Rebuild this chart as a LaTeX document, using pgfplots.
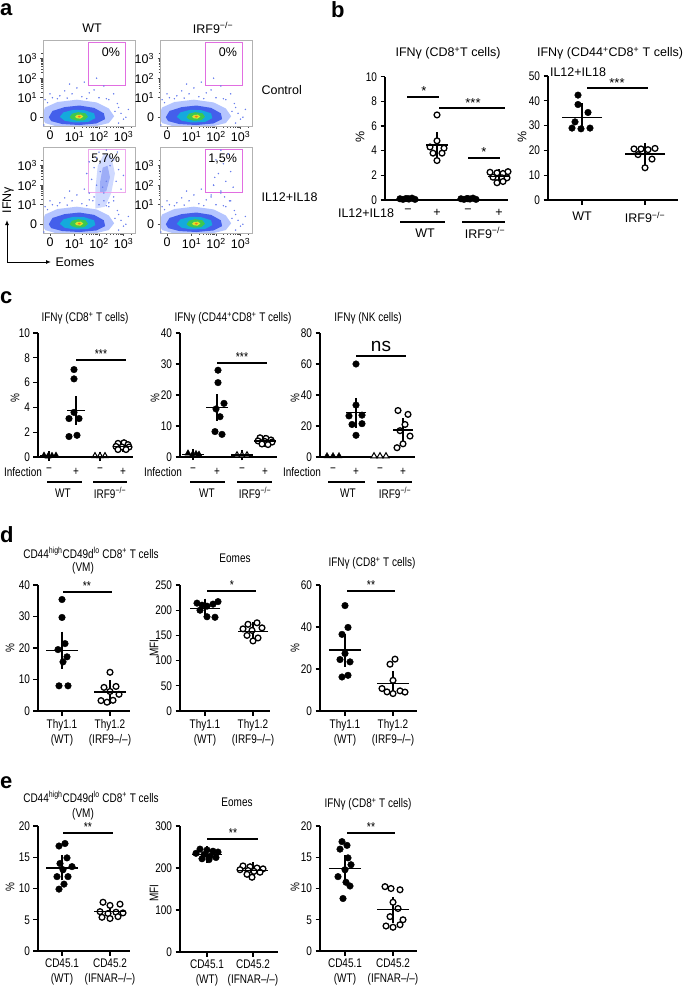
\documentclass[border=0pt]{standalone}
\usepackage{fontspec}
\setmainfont{Liberation Sans}[FakeStretch=0.8]
\newfontfamily\widefont{Liberation Sans}
\usepackage{pgfplots}
\pgfplotsset{compat=1.18}
\usepackage{pgfplotstable}
\usetikzlibrary{arrows.meta}

\definecolor{gatec}{RGB}{225,110,225}
\definecolor{fl1}{RGB}{120,150,255}
\definecolor{fl2}{RGB}{40,70,230}
\definecolor{fl3}{RGB}{20,170,220}
\definecolor{fl4}{RGB}{60,200,80}
\definecolor{fl5}{RGB}{225,225,40}
\definecolor{fl6}{RGB}{240,120,30}

\newcommand{\fc}{\fontsize{12.5}{15}\selectfont}
\newcommand{\fw}{\widefont\fontsize{12.5}{15}\selectfont}
\newcommand{\fst}{\fontsize{13}{14}\selectfont}
\newcommand{\lab}[3][]{\node[#1] at (#2) {#3};}

% ---------- flow cytometry contour data (panel a) ----------
\pgfplotstableread{
x y
-0.35 0.05
-0.2 0.5
0.3 0.78
1.1 0.9
1.9 0.76
2.4 0.45
2.62 0.05
2.4 -0.3
1.8 -0.48
1.1 -0.52
0.3 -0.48
-0.2 -0.3
}\levA
\pgfplotstableread{
x y
-0.05 0.0
0.1 0.32
0.6 0.52
1.2 0.6
1.8 0.48
2.2 0.2
2.25 -0.1
1.9 -0.32
1.2 -0.4
0.5 -0.35
0.05 -0.2
}\levB
\pgfplotstableread{
x y
0.4 0.02
0.55 0.25
0.95 0.38
1.4 0.36
1.8 0.2
1.85 -0.05
1.55 -0.24
1.0 -0.27
0.6 -0.18
}\levC
\pgfplotstableread{
x y
0.8 0.0
0.9 0.18
1.15 0.26
1.45 0.2
1.55 0.02
1.4 -0.15
1.1 -0.18
0.88 -0.1
}\levD
\pgfplotstableread{
x y
1.02 0.02
1.1 0.12
1.27 0.13
1.36 0.03
1.25 -0.07
1.1 -0.06
}\levE
\pgfplotstableread{
x y
1.13 0.02
1.18 0.08
1.26 0.05
1.21 -0.02
}\levF
\pgfplotstableread{
x y
-0.2 0.9
0.1 1.0
0.4 1.1
0.9 1.2
1.3 1.05
1.6 1.25
2.0 1.0
2.4 0.9
2.8 0.5
2.9 0.2
3.0 -0.1
2.75 0.7
0.6 1.35
1.1 1.5
1.8 1.4
2.2 1.6
0.0 1.2
1.4 1.8
2.6 1.2
3.2 0.4
0.8 1.7
1.9 2.0
2.3 0.95
-0.1 0.75
0.3 0.95
2.8 -0.3
3.1 0.0
-0.25 -0.4
2.65 0.3
1.5 0.95
0.7 0.98
}\bgdots
\pgfplotstableread{
x y
1.85 0.8
2.25 0.9
2.5 1.6
2.65 2.6
2.5 3.5
2.2 3.6
1.95 3.0
1.85 1.8
}\tailA
\pgfplotstableread{
x y
2.05 1.6
2.3 1.7
2.45 2.4
2.35 3.0
2.15 2.9
2.05 2.2
}\tailB
\pgfplotstableread{
x y
1.7 2.3
1.8 2.9
1.9 3.4
2.0 3.7
2.3 3.8
2.6 3.3
2.7 2.2
2.8 2.8
2.6 1.4
1.6 1.6
1.75 1.2
2.9 1.8
1.5 2.6
2.2 1.2
2.4 1.1
3.0 2.5
1.6 3.2
2.75 3.7
2.05 2.7
2.3 2.2
2.45 3.0
2.15 1.9
}\taildots
\pgfplotstableread{
x y
1.9 2.0
2.1 2.6
2.3 3.1
2.4 2.2
2.0 3.3
2.2 1.7
2.6 2.7
1.8 1.5
2.5 3.6
2.2 3.8
2.7 1.9
1.95 2.4
2.35 1.4
2.55 1.2
}\fewdots

\pgfplotsset{
  flowax/.style={scale only axis, width=92pt, height=85.8pt, anchor=south west,
    xmin=-0.286, xmax=3.47, ymin=-0.45, ymax=3.95,
    axis line style={draw=black!30, line width=0.6pt},
    xtick={0,1,2,3}, ytick={0,1,2,3},
    xticklabels={0,10\textsuperscript{1},10\textsuperscript{2},10\textsuperscript{3}},
    yticklabels={0,10\textsuperscript{1},10\textsuperscript{2},10\textsuperscript{3}},
    tick label style={font=\widefont\fontsize{12.5}{14}\selectfont},
    xticklabel style={yshift=1pt},
    tick align=outside, xtick pos=bottom, ytick pos=left,
    major tick length=2.5pt, minor tick length=1.5pt,
    tick style={black!70, line width=0.6pt},
    minor xtick={1.3,1.48,1.6,1.7,1.78,1.85,1.9,1.95,2.3,2.48,2.6,2.7,2.78,2.85,2.9,2.95,3.3},
    minor ytick={1.3,1.48,1.6,1.7,1.78,1.85,1.9,1.95,2.3,2.48,2.6,2.7,2.78,2.85,2.9,2.95,3.3},
    axis on top, clip=true},
  dp/.style={scale only axis, anchor=south west, axis lines*=left,
    axis line style={line width=1.1pt,-}, clip=false, xmin=0, ymin=0,
    tick style={line width=1.1pt, black}, major tick length=4.5pt, tick align=outside,
    yticklabel style={font=\fc}, xticklabel style={font=\fc},
    /pgf/number format/assume math mode=true, scaled y ticks=false},
  fdot/.style={only marks, mark=*, mark size=3.3pt, mark options={draw=black, fill=black, line width=0.4pt}},
  odot/.style={only marks, mark=*, mark size=2.9pt, mark options={draw=black, fill=white, line width=1.3pt}},
  ftri/.style={only marks, mark=triangle*, mark size=3.6pt, mark options={draw=black, fill=black}},
  otri/.style={only marks, mark=triangle*, mark size=3.4pt, mark options={draw=black, fill=white, line width=1pt}},
  msem/.style 2 args={only marks, mark=-, mark size=#1, mark options={draw=black, line width=1.3pt},
    error bars/.cd, y dir=both, y explicit, error bar style={line width=1.3pt, black},
    error mark options={draw=black, line width=1.3pt, mark size=#2}},
}

\newcommand{\blob}{%
  \addplot[only marks, mark=*, mark size=0.5pt, color=fl2!70, mark options={draw=none}] table {\bgdots};
  \addplot[fill=fl1, draw=none, fill opacity=0.55] table {\levA} -- cycle;
  \addplot[fill=fl2, draw=none, fill opacity=0.8] table {\levB} -- cycle;
  \addplot[fill=fl3, draw=none] table {\levC} -- cycle;
  \addplot[fill=fl4, draw=none] table {\levD} -- cycle;
  \addplot[fill=fl5, draw=none] table {\levE} -- cycle;
  \addplot[fill=fl6, draw=none] table {\levF} -- cycle;
}

\begin{document}
\begin{tikzpicture}[x=1pt,y=1pt]
\useasboundingbox (0,0) rectangle (685,-990);

% ================= panel a =================
\begin{axis}[flowax, at={(43pt,-126pt)}]
\blob
\draw[gatec, line width=0.8pt] (axis cs:1.55,1.65) rectangle (axis cs:3.06,3.85);
\node[anchor=east, font=\fw] at (axis cs:3.0,3.35) {0\%};
\end{axis}
\begin{axis}[flowax, at={(160pt,-126pt)}]
\blob
\draw[gatec, line width=0.8pt] (axis cs:1.55,1.65) rectangle (axis cs:3.06,3.85);
\node[anchor=east, font=\fw] at (axis cs:3.0,3.35) {0\%};
\end{axis}
\begin{axis}[flowax, at={(43pt,-233pt)}]
\addplot[fill=fl1, draw=none, fill opacity=0.35] table {\tailA} -- cycle;
\addplot[fill=fl2, draw=none, fill opacity=0.3] table {\tailB} -- cycle;
\addplot[only marks, mark=*, mark size=0.5pt, color=fl2!70, mark options={draw=none}] table {\taildots};
\blob
\draw[gatec!60, line width=0.8pt] (axis cs:1.55,1.65) rectangle (axis cs:3.06,3.85);
\node[anchor=east, font=\fw] at (axis cs:3.0,3.35) {5,7\%};
\end{axis}
\begin{axis}[flowax, at={(160pt,-233pt)}]
\addplot[only marks, mark=*, mark size=0.5pt, color=fl2!70, mark options={draw=none}] table {\fewdots};
\blob
\draw[gatec, line width=0.8pt] (axis cs:1.55,1.65) rectangle (axis cs:3.06,3.85);
\node[anchor=east, font=\fw] at (axis cs:3.0,3.35) {1,5\%};
\end{axis}

\lab[font=\fw]{92,-28}{WT}
\lab[font=\fw]{213,-28}{IRF9\textsuperscript{−/−}}
\lab[font=\fw, anchor=west]{258,-90}{Control}
\lab[font=\fw, anchor=west]{258,-197}{IL12+IL18}
\lab[font=\fw, rotate=90]{8,-200}{IFNγ}
\lab[font=\fw, anchor=west]{52,-262}{Eomes}
\draw[line width=1pt, -{Latex[length=5pt,width=4pt]}] (7,-262) -- (7,-220);
\draw[line width=1pt, -{Latex[length=5pt,width=4pt]}] (7,-262) -- (51,-262);

% ================= panel b =================
\begin{axis}[dp, at={(385pt,-200pt)}, width=123pt, height=123.3pt, xmax=123, ymax=10,
  ytick={0,2,4,6,8,10}, xtick={23,52,83,114}, xticklabels={−,+,−,+},
  xtick style={draw=none}, xticklabel style={font=\fw, yshift=-1pt}]
\addplot[fdot] coordinates {(15,0.1)(18,0.05)(21,0.12)(24,0.08)(27,0.15)(30,0.05)(23,0.1)};
\addplot[odot] coordinates {(52,6.9)(45,4.3)(59,4.2)(48,3.8)(57,3.8)(52,3.2)(52,4.8)};
\addplot[fdot] coordinates {(76,0.1)(79,0.05)(82,0.12)(85,0.08)(88,0.15)(91,0.05)(83,0.1)};
\addplot[odot] coordinates {(105,2.25)(112,2.2)(118,2.15)(123,2.3)(108,1.85)(117,1.8)(122,1.8)(112,1.4)(118,1.5)};
\addplot[msem={11pt}{6pt}] coordinates {(52,4.45) +- (0,0.55) (114,1.9) +- (0,0.1)};
\end{axis}
\begin{axis}[dp, at={(548pt,-200pt)}, width=130pt, height=124pt, xmax=130, ymax=50,
  ytick={0,10,20,30,40,50}, xtick={34,97}, xticklabels={WT,IRF9\textsuperscript{−/−}},
  xticklabel style={font=\fw, yshift=-4pt}]
\addplot[fdot] coordinates {(30,42.3)(30,38.5)(40,35.3)(27,31.5)(24,29)(33,28.7)(42,29)};
\addplot[odot] coordinates {(86,20.6)(93,20.6)(100,20.3)(107,20.8)(90,18.3)(104,16.5)(97,13)};
\addplot[msem={20pt}{8.5pt}] coordinates {(34,33.3) +- (0,2.2) (97,18.6) +- (0,1.0)};
\end{axis}
\lab[font=\fw]{448,-53}{IFNγ (CD8\textsuperscript{+}T cells)}
\lab[font=\fw]{610,-53}{IFNγ (CD44\textsuperscript{+}CD8\textsuperscript{+} T cells)}
\lab[font=\fw]{578,-72}{IL12+IL18}
\lab[font=\fw, rotate=90]{360,-137}{\%}
\lab[font=\fw, rotate=90]{522,-137}{\%}
\lab[font=\fw]{366,-213}{IL12+IL18}
\draw[line width=1.1pt] (400,-222) -- (445,-222) (462,-222) -- (505,-222);
\lab[font=\fw]{425,-233}{WT}
\lab[font=\fw]{485,-233}{IRF9\textsuperscript{−/−}}
\draw[line width=1.1pt] (407,-97) -- (439,-97) (439,-108) -- (505,-108) (468,-158) -- (500,-158) (587,-88) -- (648,-88);
\lab[font=\widefont\fst, anchor=base]{424,-95}{*}
\lab[font=\widefont\fst, anchor=base]{473,-107}{***}
\lab[font=\widefont\fst, anchor=base]{484,-156}{*}
\lab[font=\widefont\fst, anchor=base]{617,-87}{***}

% ================= panel c =================
\begin{axis}[dp, at={(38pt,-457pt)}, width=95pt, height=124pt, xmax=95, ymax=10,
  ytick={0,2,4,6,8,10}, xtick={11,38,62,85}, xticklabels={−,+,−,+},
  xtick style={draw=none}, xticklabel style={yshift=-3pt}]
\addplot[ftri] coordinates {(6,0.12)(10,0.05)(14,0.1)(18,0.12)};
\addplot[fdot] coordinates {(36,7.05)(36,6.3)(31,3.1)(41,3.1)(36,3.6)(31,1.65)(39,1.75)};
\addplot[otri] coordinates {(57,0.08)(62,0.08)(67,0.08)};
\addplot[odot] coordinates {(80,1.1)(86,1.15)(90,1.0)(78,0.85)(84,0.8)(91,0.8)(80,0.6)(88,0.6)};
\addplot[msem={9pt}{4.5pt}] coordinates {(11,0.1) +- (0,0.03) (38,3.75) +- (0,0.8) (62,0.05) +- (0,0.01) (85,0.87) +- (0,0.1)};
\end{axis}
\begin{axis}[dp, at={(180pt,-457pt)}, width=97pt, height=124pt, xmax=97, ymax=40,
  ytick={0,10,20,30,40}, xtick={13,37,62,85}, xticklabels={−,+,−,+},
  xtick style={draw=none}, xticklabel style={yshift=-3pt}]
\addplot[ftri] coordinates {(8,1.2)(12,0.5)(16,1.0)(19,0.8)};
\addplot[fdot] coordinates {(38,28)(38,24)(44,17.3)(36,15.5)(40,13)(35,8.2)(42,7.3)};
\addplot[otri] coordinates {(57,0.6)(62,0.6)(67,0.6)};
\addplot[odot] coordinates {(80,6.2)(86,6.0)(91,5.5)(78,5.2)(85,5.0)(92,4.8)(82,4.2)(88,4.0)};
\addplot[msem={11pt}{5pt}] coordinates {(13,0.8) +- (0,0.2) (37,16) +- (0,2.7) (62,0.6) +- (0,0.05) (85,5.2) +- (0,0.3)};
\end{axis}
\begin{axis}[dp, at={(320pt,-457pt)}, width=95pt, height=124pt, xmax=95, ymax=80,
  ytick={0,20,40,60,80}, xtick={13,36,60,83}, xticklabels={−,+,−,+},
  xtick style={draw=none}, xticklabel style={yshift=-3pt}]
\addplot[ftri] coordinates {(7,0.6)(13,0.6)(19,0.6)};
\addplot[fdot] coordinates {(36,60)(36,33.5)(29,26.5)(42,27)(32,21)(42,21.5)(36,14)};
\addplot[otri] coordinates {(54,0.6)(60,0.6)(66,0.6)};
\addplot[odot] coordinates {(78,30)(88,27.5)(85,21)(80,17)(90,13.5)(83,8.5)(77,6)};
\addplot[msem={10pt}{6pt}] coordinates {(36,28.5) +- (0,5.8) (83,17.4) +- (0,3.8)};
\end{axis}
\lab[font=\fc]{85,-318}{IFNγ (CD8\textsuperscript{+} T cells)}
\lab[font=\fc]{233,-318}{IFNγ (CD44\textsuperscript{+}CD8\textsuperscript{+} T cells)}
\lab[font=\fc]{368,-318}{IFNγ (NK cells)}
\lab[font=\fc, rotate=90]{15,-398}{\%}
\lab[font=\fc, rotate=90]{155,-398}{\%}
\lab[font=\fc, rotate=90]{295,-398}{\%}
\lab[font=\fc]{23,-472}{Infection}
\lab[font=\fc]{163,-472}{Infection}
\lab[font=\fc]{302,-472}{Infection}
\draw[line width=1.1pt] (47,-482) -- (82,-482) (93,-482) -- (127,-482)
  (190,-482) -- (225,-482) (237,-482) -- (272,-482)
  (328,-482) -- (365,-482) (377,-482) -- (412,-482);
\lab[font=\fc]{63,-493}{WT}
\lab[font=\fc]{110,-493}{IRF9\textsuperscript{−/−}}
\lab[font=\fc]{207,-493}{WT}
\lab[font=\fc]{255,-493}{IRF9\textsuperscript{−/−}}
\lab[font=\fc]{348,-493}{WT}
\lab[font=\fc]{395,-493}{IRF9\textsuperscript{−/−}}
\draw[line width=1.1pt] (76,-360) -- (126,-360) (217,-363) -- (267,-363) (356,-356) -- (406,-356);
\lab[font=\fst, anchor=base]{101,-358}{***}
\lab[font=\fst, anchor=base]{242,-361}{***}
\lab[font=\widefont\fontsize{19}{20}\selectfont, anchor=base]{381,-351}{ns}

% ================= panel d =================
\begin{axis}[dp, at={(38pt,-711pt)}, width=92pt, height=126pt, xmax=92, ymax=40,
  ytick={0,10,20,30,40}, xtick={24,72},
  xticklabels={{Thy1.1\\(WT)},{Thy1.2\\(IRF9–/–)}},
  xticklabel style={align=center}]
\addplot[fdot] coordinates {(24,35.4)(24,29.7)(27,21.4)(20,19.5)(29,17.2)(25,15.6)(21,8)(30,8)};
\addplot[odot] coordinates {(72,12.3)(66,7.5)(78,7.8)(72,6.2)(63,3.3)(69,2.8)(75,3.4)(81,5.3)};
\addplot[msem={16pt}{8pt}] coordinates {(24,19.3) +- (0,3.4) (72,6.0) +- (0,1.2)};
\end{axis}
\begin{axis}[dp, at={(180pt,-711pt)}, width=90pt, height=126pt, xmax=90, ymax=250,
  ytick={0,50,100,150,200,250}, xtick={25,73},
  xticklabels={{Thy1.1\\(WT)},{Thy1.2\\(IRF9–/–)}},
  xticklabel style={align=center}]
\addplot[fdot] coordinates {(17,214)(22,210)(27,208)(33,212)(38,217)(20,200)(27,187)(35,186)};
\addplot[odot] coordinates {(68,172)(77,175)(63,163)(72,160)(82,165)(67,150)(73,139)(78,145)};
\addplot[msem={15pt}{7pt}] coordinates {(25,204) +- (0,5) (73,158) +- (0,4.5)};
\end{axis}
\begin{axis}[dp, at={(320pt,-711pt)}, width=97pt, height=126pt, xmax=97, ymax=60,
  ytick={0,20,40,60}, xtick={25,73},
  xticklabels={{Thy1.1\\(WT)},{Thy1.2\\(IRF9–/–)}},
  xticklabel style={align=center}]
\addplot[fdot] coordinates {(25,50.2)(28,39.8)(22,36.5)(20,24.5)(30,23.4)(25,27.4)(22,16.2)(28,17)};
\addplot[odot] coordinates {(75,24.7)(70,22.3)(73,14.6)(62,10.7)(67,9.1)(73,8.3)(80,9.6)(85,9)};
\addplot[msem={16pt}{8pt}] coordinates {(25,29) +- (0,4) (73,13) +- (0,2.3)};
\end{axis}
\lab[font=\fc]{91,-553}{CD44\textsuperscript{high}CD49d\textsuperscript{lo} CD8\textsuperscript{+} T cells}
\lab[font=\fc]{83,-568}{(VM)}
\lab[font=\fc]{235,-558}{Eomes}
\lab[font=\fc]{372,-563}{IFNγ (CD8\textsuperscript{+} T cells)}
\lab[font=\fc, rotate=90]{10,-648}{\%}
\lab[font=\fc, rotate=90]{154,-648}{MFI}
\lab[font=\fc, rotate=90]{295,-648}{\%}
\draw[line width=1.1pt] (63,-592) -- (112,-592) (207,-591) -- (256,-591) (347,-591) -- (395,-591);
\lab[font=\fst, anchor=base]{87,-590}{**}
\lab[font=\fst, anchor=base]{232,-589}{*}
\lab[font=\fst, anchor=base]{371,-589}{**}

% ================= panel e =================
\begin{axis}[dp, at={(38pt,-951pt)}, width=92pt, height=125pt, xmax=92, ymax=20,
  ytick={0,5,10,15,20}, xtick={24,72},
  xticklabels={{CD45.1\\(WT)},{CD45.2\\(IFNAR–/–)}},
  xticklabel style={align=center}]
\addplot[fdot] coordinates {(27,17.2)(21,16.8)(29,14.9)(22,14)(34,13.5)(25,13)(30,11.9)(19,11.9)(26,10.7)(21,9.9)};
\addplot[odot] coordinates {(65,7.8)(72,7.3)(82,7.5)(62,6.3)(70,6.0)(78,6.2)(85,6.1)(64,5.4)(72,5.2)(80,5.5)};
\addplot[msem={16pt}{7.5pt}] coordinates {(24,13.3) +- (0,0.8) (72,6.3) +- (0,0.3)};
\end{axis}
\begin{axis}[dp, at={(180pt,-952pt)}, width=98pt, height=126pt, xmax=98, ymax=300,
  ytick={0,100,200,300}, xtick={27,73},
  xticklabels={{CD45.1\\(WT)},{CD45.2\\(IFNAR–/–)}},
  xticklabel style={align=center}]
\addplot[fdot] coordinates {(20,245)(27,243)(33,240)(38,238)(16,235)(24,232)(30,228)(36,225)(22,222)(29,220)};
\addplot[odot] coordinates {(63,205)(70,203)(77,200)(83,198)(60,196)(68,194)(74,192)(80,190)(67,185)(72,178)};
\addplot[msem={15pt}{7pt}] coordinates {(27,232) +- (0,3) (73,194) +- (0,3)};
\end{axis}
\begin{axis}[dp, at={(320pt,-951pt)}, width=97pt, height=125pt, xmax=97, ymax=20,
  ytick={0,5,10,15,20}, xtick={25,73},
  xticklabels={{CD45.1\\(WT)},{CD45.2\\(IFNAR–/–)}},
  xticklabel style={align=center}]
\addplot[fdot] coordinates {(22,17.5)(27,16.9)(20,16.3)(28,14.9)(31,13.8)(25,13)(18,11.9)(26,11)(30,10.4)(23,8.4)};
\addplot[odot] coordinates {(65,10.3)(71,10.0)(80,9.8)(73,7.8)(78,6.8)(70,5.5)(83,5.0)(66,4.0)(73,3.8)(80,4.2)};
\addplot[msem={16pt}{7.5pt}] coordinates {(25,13.2) +- (0,0.95) (73,6.6) +- (0,0.85)};
\end{axis}
\lab[font=\fc]{91,-797}{CD44\textsuperscript{high}CD49d\textsuperscript{lo} CD8\textsuperscript{+} T cells}
\lab[font=\fc]{83,-814}{(VM)}
\lab[font=\fc]{237,-802}{Eomes}
\lab[font=\fc]{368,-804}{IFNγ (CD8\textsuperscript{+} T cells)}
\lab[font=\fc, rotate=90]{10,-887}{\%}
\lab[font=\fc, rotate=90]{154,-893}{MFI}
\lab[font=\fc, rotate=90]{295,-887}{\%}
\draw[line width=1.1pt] (63,-833) -- (113,-833) (207,-839) -- (258,-839) (347,-833) -- (395,-833);
\lab[font=\fst, anchor=base]{88,-831}{**}
\lab[font=\fst, anchor=base]{233,-837}{**}
\lab[font=\fst, anchor=base]{371,-831}{**}

% ================= panel letters =================
\lab[font=\widefont\bfseries\fontsize{22}{24}\selectfont, anchor=base west, inner sep=0pt]{0,-16}{a}
\lab[font=\widefont\bfseries\fontsize{22}{24}\selectfont, anchor=base west, inner sep=0pt]{331,-18}{b}
\lab[font=\widefont\bfseries\fontsize{22}{24}\selectfont, anchor=base west, inner sep=0pt]{0,-303}{c}
\lab[font=\widefont\bfseries\fontsize{22}{24}\selectfont, anchor=base west, inner sep=0pt]{0,-542}{d}
\lab[font=\widefont\bfseries\fontsize{22}{24}\selectfont, anchor=base west, inner sep=0pt]{0,-788}{e}
\end{tikzpicture}
\end{document}
